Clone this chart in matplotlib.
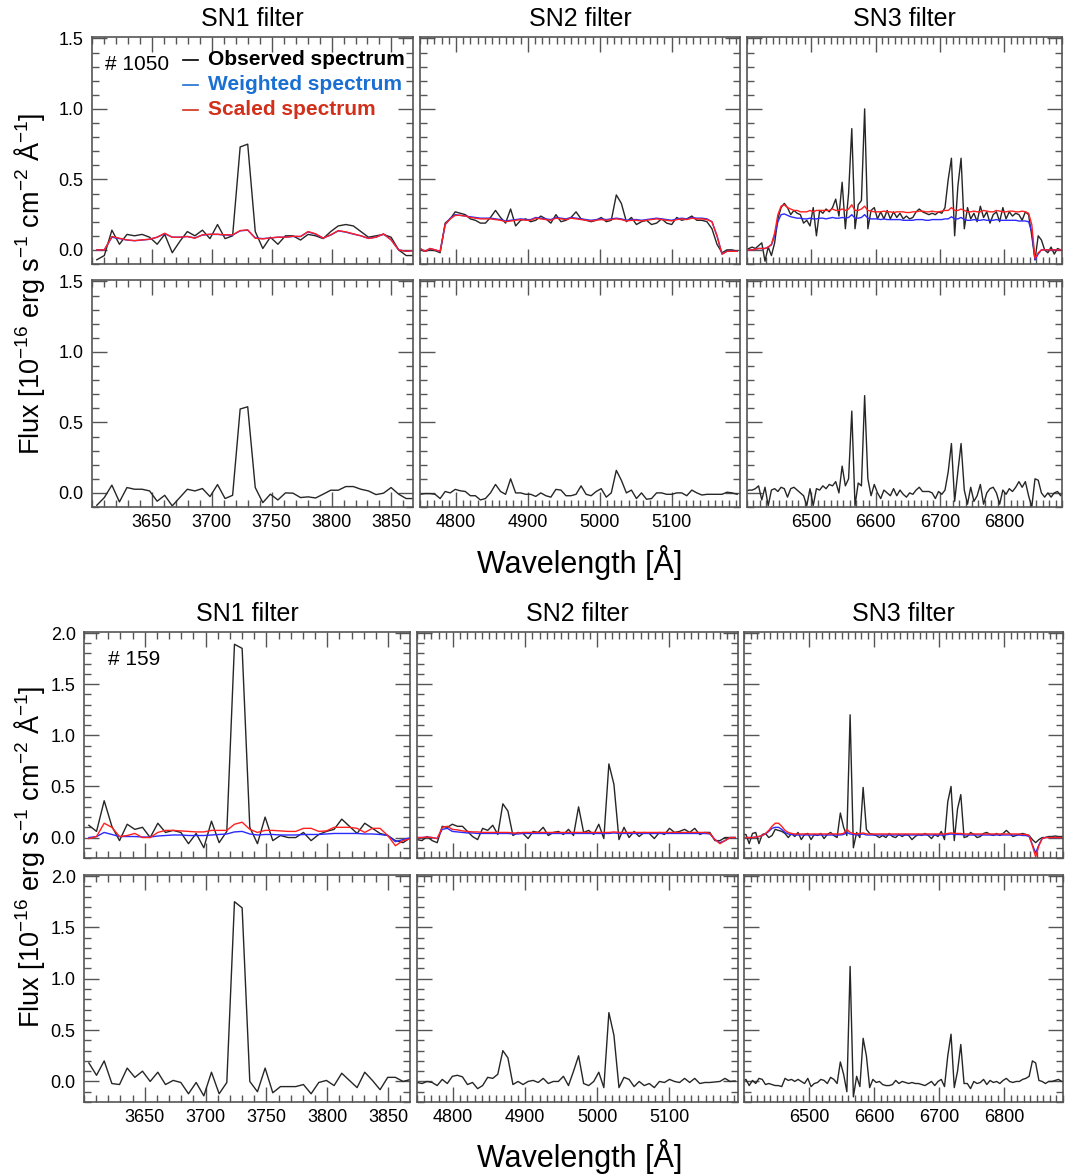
import numpy as np
import matplotlib
matplotlib.use("Agg")
import matplotlib.pyplot as plt
from matplotlib.ticker import MultipleLocator

plt.rcParams['font.family'] = ['Liberation Sans', 'DejaVu Sans']
plt.rcParams['mathtext.fontset'] = 'custom'
plt.rcParams['mathtext.rm'] = 'Liberation Sans'
plt.rcParams['mathtext.it'] = 'Liberation Sans:italic'
plt.rcParams['mathtext.bf'] = 'Liberation Sans:bold'

# wavelength sampling of each filter (start, step in Angstrom)
sn1_start, sn1_step = 3604.0, 6.3
sn2_start, sn2_step = 4750.0, 7.0
sn3_start, sn3_step = 6398.0, 5.0

# ---------------- region #1050 ----------------
obs1050_sn1 = [-0.07, -0.04, 0.14, 0.04, 0.11, 0.10, 0.11, 0.09, 0.04, 0.11,
               -0.02, 0.06, 0.13, 0.10, 0.14, 0.08, 0.18, 0.08, 0.10, 0.73,
               0.75, 0.13, 0.01, 0.09, 0.04, 0.10, 0.10, 0.07, 0.11, 0.10,
               0.08, 0.13, 0.17, 0.18, 0.17, 0.13, 0.09, 0.10, 0.11, 0.09,
               0.00, -0.04, -0.04]
wgt1050_sn1 = [0.00, 0.00, 0.09, 0.08, 0.07, 0.065, 0.07, 0.075, 0.09, 0.115,
               0.09, 0.09, 0.095, 0.085, 0.105, 0.11, 0.11, 0.105, 0.105, 0.135,
               0.14, 0.085, 0.08, 0.085, 0.09, 0.09, 0.095, 0.095, 0.128, 0.112,
               0.085, 0.105, 0.135, 0.126, 0.112, 0.10, 0.082, 0.09, 0.112, 0.072,
               0.00, -0.01, -0.005]
scl1050_sn1 = [0.00, 0.00, 0.095, 0.083, 0.071, 0.066, 0.071, 0.076, 0.090, 0.118,
               0.090, 0.090, 0.095, 0.083, 0.107, 0.111, 0.111, 0.107, 0.107, 0.137,
               0.142, 0.083, 0.078, 0.085, 0.090, 0.090, 0.097, 0.095, 0.130, 0.114,
               0.083, 0.107, 0.137, 0.128, 0.114, 0.100, 0.081, 0.090, 0.114, 0.071,
               0.00, -0.01, -0.005]
sub1050_sn1 = [-0.088, -0.033, 0.055, -0.064, 0.038, 0.026, 0.026, 0.014, -0.059, -0.017,
               -0.092, -0.033, 0.026, 0.014, 0.031, -0.026, 0.059, -0.040, -0.017, 0.595,
               0.611, 0.038, -0.069, -0.009, -0.050, 0.0, -0.002, -0.033, -0.028, -0.036,
               -0.009, 0.019, 0.019, 0.045, 0.045, 0.026, 0.014, -0.012, -0.002, 0.038,
               -0.009, -0.040, -0.040]

obs1050_sn2 = [0.0, -0.01, 0.0, -0.005, -0.02, 0.19, 0.22, 0.27, 0.26, 0.25,
               0.22, 0.21, 0.19, 0.19, 0.23, 0.28, 0.23, 0.19, 0.29, 0.17,
               0.21, 0.22, 0.20, 0.21, 0.24, 0.22, 0.19, 0.25, 0.20, 0.21,
               0.23, 0.27, 0.22, 0.21, 0.20, 0.21, 0.23, 0.20, 0.21, 0.39,
               0.33, 0.20, 0.23, 0.18, 0.20, 0.21, 0.18, 0.19, 0.22, 0.19,
               0.18, 0.23, 0.21, 0.22, 0.24, 0.21, 0.21, 0.20, 0.15, 0.04,
               -0.02, 0.0, 0.0, -0.01]
wgt1050_sn2 = [0.01, -0.01, 0.01, 0.0, -0.01, 0.18, 0.225, 0.25, 0.245, 0.24,
               0.235, 0.23, 0.225, 0.225, 0.225, 0.22, 0.215, 0.205, 0.21, 0.215,
               0.22, 0.215, 0.215, 0.23, 0.225, 0.22, 0.215, 0.23, 0.225, 0.22,
               0.23, 0.225, 0.22, 0.215, 0.21, 0.215, 0.22, 0.215, 0.22, 0.225,
               0.22, 0.21, 0.215, 0.215, 0.21, 0.215, 0.22, 0.225, 0.22, 0.215,
               0.21, 0.22, 0.225, 0.22, 0.23, 0.225, 0.225, 0.22, 0.20, 0.10,
               -0.03, -0.01, -0.01, -0.01]
scl1050_sn2 = [0.01, -0.01, 0.01, 0.0, -0.01, 0.18, 0.22, 0.245, 0.245, 0.24,
               0.23, 0.225, 0.22, 0.22, 0.22, 0.215, 0.21, 0.20, 0.205, 0.21,
               0.215, 0.21, 0.21, 0.225, 0.22, 0.215, 0.21, 0.225, 0.22, 0.215,
               0.225, 0.22, 0.215, 0.21, 0.205, 0.21, 0.215, 0.21, 0.215, 0.22,
               0.215, 0.205, 0.21, 0.21, 0.205, 0.21, 0.215, 0.22, 0.215, 0.21,
               0.205, 0.215, 0.22, 0.215, 0.225, 0.22, 0.22, 0.215, 0.20, 0.10,
               -0.03, -0.01, -0.01, -0.01]
sub1050_sn2 = [-0.01, -0.005, -0.005, -0.01, -0.04, 0.01, 0.0, 0.025, 0.015, 0.01,
               -0.02, -0.02, -0.05, -0.04, 0.0, 0.06, 0.01, -0.01, 0.10, 0.0,
               0.0, -0.01, -0.01, -0.025, 0.0, -0.02, -0.03, 0.025, 0.02, -0.02,
               -0.02, -0.01, 0.05, -0.01, -0.02, 0.01, 0.03, -0.03, 0.0, 0.16,
               0.09, 0.0, 0.02, -0.04, 0.0, -0.045, -0.04, 0.0, 0.0, -0.01,
               -0.01, 0.0, 0.0, -0.02, 0.02, 0.0, -0.015, -0.01, -0.01, -0.01,
               -0.01, 0.005, 0.0, -0.01]

obs1050_sn3 = [0.00, 0.01, 0.02, 0.01, 0.03, 0.05, -0.08, 0.02, -0.04, 0.05,
               0.22, 0.30, 0.33, 0.30, 0.25, 0.28, 0.26, 0.25, 0.19, 0.21,
               0.17, 0.30, 0.10, 0.28, 0.26, 0.29, 0.27, 0.30, 0.36, 0.24,
               0.48, 0.15, 0.40, 0.86, 0.15, 0.32, 0.35, 1.00, 0.15, 0.28,
               0.30, 0.22, 0.27, 0.22, 0.28, 0.22, 0.27, 0.23, 0.26, 0.22,
               0.24, 0.22, 0.23, 0.27, 0.29, 0.27, 0.26, 0.25, 0.26, 0.25,
               0.27, 0.26, 0.30, 0.50, 0.65, 0.10, 0.45, 0.65, 0.15, 0.30,
               0.22, 0.26, 0.20, 0.31, 0.23, 0.27, 0.19, 0.25, 0.27, 0.20,
               0.30, 0.22, 0.27, 0.24, 0.26, 0.25, 0.21, 0.27, 0.25, 0.10,
               -0.07, 0.10, 0.07, 0.00, -0.02, 0.02, -0.03, 0.01, 0.00, 0.01]
wgt1050_sn3 = [0.00, 0.00, 0.00, 0.005, 0.01, 0.01, 0.01, 0.02, 0.035, 0.10,
               0.20, 0.25, 0.255, 0.245, 0.235, 0.23, 0.225, 0.225, 0.22, 0.22,
               0.225, 0.22, 0.22, 0.225, 0.225, 0.22, 0.225, 0.23, 0.225, 0.225,
               0.23, 0.225, 0.23, 0.25, 0.225, 0.225, 0.23, 0.25, 0.225, 0.22,
               0.22, 0.22, 0.215, 0.22, 0.215, 0.215, 0.215, 0.215, 0.215, 0.21,
               0.21, 0.21, 0.21, 0.215, 0.215, 0.215, 0.21, 0.21, 0.215, 0.215,
               0.215, 0.215, 0.22, 0.22, 0.235, 0.22, 0.22, 0.23, 0.215, 0.21,
               0.21, 0.215, 0.21, 0.21, 0.215, 0.21, 0.21, 0.21, 0.215, 0.21,
               0.21, 0.21, 0.21, 0.21, 0.21, 0.205, 0.205, 0.205, 0.20, 0.13,
               -0.07, -0.03, 0.0, 0.0, 0.0, 0.0, 0.0, 0.0, 0.0, 0.0]
scl1050_sn3 = [0.00, 0.00, 0.00, 0.005, 0.01, 0.01, 0.01, 0.02, 0.04, 0.12,
               0.25, 0.31, 0.32, 0.30, 0.29, 0.28, 0.28, 0.27, 0.27, 0.27,
               0.28, 0.27, 0.28, 0.28, 0.28, 0.28, 0.28, 0.29, 0.28, 0.28,
               0.29, 0.28, 0.29, 0.32, 0.28, 0.28, 0.29, 0.31, 0.28, 0.275,
               0.27, 0.27, 0.27, 0.275, 0.27, 0.27, 0.265, 0.27, 0.27, 0.27,
               0.265, 0.265, 0.27, 0.27, 0.275, 0.275, 0.27, 0.27, 0.275, 0.27,
               0.27, 0.275, 0.28, 0.28, 0.30, 0.28, 0.28, 0.29, 0.28, 0.27,
               0.27, 0.275, 0.27, 0.27, 0.28, 0.275, 0.27, 0.27, 0.28, 0.275,
               0.27, 0.27, 0.275, 0.275, 0.27, 0.27, 0.275, 0.27, 0.26, 0.18,
               -0.06, -0.02, 0.0, 0.0, 0.0, 0.0, 0.0, 0.0, 0.0, 0.0]
sub1050_sn3 = [0.01, 0.02, 0.02, 0.03, 0.05, -0.05, 0.04, -0.09, 0.02, 0.03,
               0.01, 0.04, 0.03, -0.03, 0.03, 0.04, 0.02, 0.0, -0.02, -0.09,
               0.03, -0.09, 0.03, 0.02, 0.05, 0.03, 0.06, 0.05, 0.08, 0.0,
               0.19, 0.05, 0.10, 0.58, -0.09, 0.07, 0.05, 0.69, 0.10, -0.02,
               0.06, 0.0, -0.04, 0.02, 0.0, -0.02, 0.03, -0.02, 0.02, -0.01,
               -0.03, 0.0, -0.01, 0.02, 0.04, 0.01, 0.01, 0.01, 0.0, -0.04,
               0.01, -0.01, 0.02, 0.15, 0.35, -0.06, 0.15, 0.35, 0.02, -0.08,
               0.04, -0.06, -0.02, 0.06, -0.08, 0.0, 0.03, 0.04, 0.0, -0.08,
               0.02, -0.01, 0.03, 0.01, 0.04, 0.08, 0.04, 0.08, -0.02, -0.10,
               0.10, 0.09, 0.0, -0.03, 0.0, -0.03, 0.0, 0.01, -0.02, 0.01]

# ---------------- region #159 ----------------
obs159_sn1 = [0.12, 0.06, 0.36, 0.11, -0.03, 0.13, 0.08, 0.10, 0.0, 0.14,
              0.05, 0.07, 0.05, -0.06, 0.04, -0.10, 0.16, -0.05, 0.06, 1.89,
              1.85, 0.10, -0.06, 0.20, -0.03, 0.02, 0.0, 0.0, 0.05, -0.03,
              0.03, 0.06, 0.08, 0.18, 0.11, 0.04, 0.14, 0.09, 0.04, 0.02,
              -0.03, -0.05, 0.0]
wgt159_sn1 = [0.0, 0.01, 0.05, 0.03, 0.01, 0.01, 0.01, 0.005, 0.005, 0.015,
              0.02, 0.025, 0.025, 0.02, 0.02, 0.02, 0.025, 0.03, 0.035, 0.055,
              0.06, 0.035, 0.025, 0.03, 0.03, 0.025, 0.025, 0.025, 0.03, 0.03,
              0.03, 0.035, 0.04, 0.04, 0.04, 0.04, 0.035, 0.035, 0.03, 0.02,
              -0.04, -0.02, 0.0]
scl159_sn1 = [-0.01, 0.01, 0.14, 0.10, 0.01, 0.02, 0.04, 0.0, 0.0, 0.05,
              0.07, 0.07, 0.065, 0.06, 0.055, 0.055, 0.07, 0.07, 0.07, 0.13,
              0.15, 0.08, 0.05, 0.07, 0.07, 0.065, 0.06, 0.06, 0.09, 0.09,
              0.06, 0.065, 0.10, 0.10, 0.10, 0.09, 0.05, 0.09, 0.09, 0.02,
              -0.08, -0.03, -0.01]
sub159_sn1 = [0.18, 0.06, 0.20, -0.02, -0.03, 0.13, 0.04, 0.10, 0.0, 0.09,
              -0.03, 0.01, -0.01, -0.12, -0.01, -0.14, 0.09, -0.12, -0.01, 1.75,
              1.69, 0.0, -0.10, 0.13, -0.11, -0.05, -0.05, -0.05, -0.03, -0.12,
              -0.01, 0.01, -0.04, 0.08, 0.01, -0.06, 0.09, 0.01, -0.08, 0.04,
              0.04, 0.0, 0.02]

obs159_sn2 = [-0.02, -0.03, 0.01, -0.03, -0.05, 0.11, 0.10, 0.13, 0.11, 0.11,
              0.06, 0.01, -0.02, 0.09, 0.07, 0.12, 0.03, 0.33, 0.26, 0.02,
              0.05, 0.04, -0.01, 0.06, 0.05, 0.10, 0.02, 0.05, 0.06, 0.03,
              0.08, 0.02, 0.30, 0.05, 0.07, 0.03, 0.13, -0.01, 0.72, 0.52,
              -0.02, 0.10, 0.0, 0.06, 0.01, 0.05, 0.04, -0.01, 0.05, 0.03,
              0.09, 0.05, 0.06, 0.08, 0.05, 0.09, 0.03, 0.05, 0.05, -0.03,
              -0.03, 0.0, 0.0, 0.0]
wgt159_sn2 = [0.0, 0.0, 0.005, 0.0, -0.01, 0.08, 0.09, 0.06, 0.055, 0.05,
              0.045, 0.045, 0.04, 0.04, 0.04, 0.04, 0.04, 0.04, 0.04, 0.035,
              0.035, 0.04, 0.04, 0.04, 0.04, 0.04, 0.04, 0.04, 0.04, 0.04,
              0.04, 0.04, 0.04, 0.04, 0.04, 0.04, 0.04, 0.04, 0.04, 0.045,
              0.04, 0.04, 0.04, 0.04, 0.04, 0.04, 0.04, 0.04, 0.04, 0.04,
              0.04, 0.04, 0.04, 0.04, 0.04, 0.04, 0.04, 0.04, 0.035, -0.02,
              -0.05, -0.03, 0.0, 0.0]
scl159_sn2 = [0.0, 0.0, 0.005, 0.0, -0.01, 0.10, 0.11, 0.08, 0.075, 0.065,
              0.06, 0.055, 0.055, 0.05, 0.05, 0.05, 0.05, 0.05, 0.05, 0.045,
              0.045, 0.05, 0.05, 0.05, 0.05, 0.05, 0.05, 0.05, 0.05, 0.05,
              0.05, 0.05, 0.05, 0.05, 0.05, 0.05, 0.05, 0.05, 0.05, 0.055,
              0.05, 0.05, 0.05, 0.05, 0.05, 0.05, 0.05, 0.05, 0.05, 0.05,
              0.05, 0.05, 0.05, 0.05, 0.05, 0.05, 0.05, 0.05, 0.04, -0.02,
              -0.06, -0.03, 0.0, 0.0]
sub159_sn2 = [-0.01, -0.02, 0.0, -0.01, -0.04, 0.02, -0.02, 0.05, 0.06, 0.045,
              -0.03, -0.01, -0.07, -0.04, 0.04, 0.03, 0.07, 0.30, 0.23, -0.03,
              0.0, -0.03, 0.0, 0.01, -0.01, 0.03, -0.02, 0.0, 0.0, 0.05,
              -0.04, 0.10, 0.25, -0.02, -0.04, 0.0, 0.09, -0.06, 0.67, 0.45,
              -0.06, 0.04, 0.02, -0.05, 0.0, -0.04, -0.02, -0.06, 0.0, -0.01,
              0.02, 0.0, -0.01, 0.03, -0.01, 0.03, -0.02, -0.01, -0.01, -0.005,
              0.0, 0.03, 0.0, 0.005]

obs159_sn3 = [0.03, 0.03, -0.06, 0.04, 0.05, -0.06, 0.03, 0.04, 0.0, 0.02,
              0.08, 0.07, 0.06, 0.04, 0.0, 0.04, 0.01, 0.05, -0.02, 0.03,
              0.04, -0.02, 0.03, 0.02, 0.04, -0.01, 0.03, 0.05, 0.02, 0.0,
              0.24, 0.10, 0.02, 1.20, -0.10, 0.05, 0.0, 0.49, 0.08, 0.04,
              0.03, 0.02, 0.0, 0.02, 0.0, 0.04, 0.01, 0.0, 0.03, 0.01,
              0.03, 0.02, -0.02, 0.01, 0.03, 0.02, 0.04, 0.02, -0.01, 0.03,
              0.01, 0.06, -0.02, 0.35, 0.50, -0.03, 0.28, 0.42, 0.0, 0.01,
              0.05, 0.03, 0.0, 0.01, 0.04, 0.05, 0.03, 0.02, 0.04, 0.02,
              0.04, 0.07, 0.04, 0.01, 0.02, 0.03, 0.04, 0.03, 0.02, -0.02,
              -0.05, -0.02, 0.0, 0.0, 0.01, 0.01, 0.015, 0.01, 0.01, 0.01]
wgt159_sn3 = [0.0, 0.0, 0.0, 0.0, 0.005, 0.01, 0.02, 0.035, 0.06, 0.09,
              0.10, 0.10, 0.08, 0.05, 0.035, 0.03, 0.025, 0.025, 0.025, 0.025,
              0.025, 0.025, 0.025, 0.025, 0.025, 0.025, 0.025, 0.025, 0.025, 0.025,
              0.025, 0.03, 0.05, 0.035, 0.03, 0.025, 0.03, 0.035, 0.025, 0.025,
              0.025, 0.025, 0.025, 0.025, 0.025, 0.025, 0.025, 0.025, 0.025, 0.025,
              0.025, 0.025, 0.025, 0.025, 0.025, 0.025, 0.025, 0.025, 0.025, 0.025,
              0.025, 0.025, 0.025, 0.03, 0.035, 0.03, 0.03, 0.03, 0.025, 0.025,
              0.025, 0.025, 0.025, 0.025, 0.025, 0.025, 0.025, 0.025, 0.025, 0.025,
              0.025, 0.025, 0.025, 0.025, 0.025, 0.025, 0.02, 0.02, 0.01, -0.07,
              -0.15, -0.07, -0.01, 0.0, 0.0, 0.0, 0.0, 0.0, 0.0, 0.0]
scl159_sn3 = [0.0, 0.0, 0.0, 0.0, 0.005, 0.01, 0.02, 0.04, 0.07, 0.11,
              0.14, 0.14, 0.11, 0.07, 0.05, 0.04, 0.035, 0.035, 0.035, 0.035,
              0.035, 0.035, 0.035, 0.035, 0.035, 0.035, 0.035, 0.035, 0.035, 0.035,
              0.035, 0.04, 0.08, 0.05, 0.04, 0.035, 0.04, 0.045, 0.035, 0.035,
              0.035, 0.035, 0.035, 0.035, 0.035, 0.035, 0.035, 0.035, 0.035, 0.035,
              0.035, 0.035, 0.035, 0.035, 0.035, 0.035, 0.035, 0.035, 0.035, 0.035,
              0.035, 0.035, 0.035, 0.04, 0.045, 0.04, 0.04, 0.04, 0.035, 0.035,
              0.035, 0.035, 0.035, 0.035, 0.035, 0.035, 0.035, 0.035, 0.035, 0.035,
              0.035, 0.035, 0.035, 0.035, 0.035, 0.035, 0.03, 0.03, 0.02, -0.08,
              -0.19, -0.08, -0.01, 0.0, 0.0, 0.0, 0.0, 0.0, 0.0, 0.0]
sub159_sn3 = [0.0, 0.02, -0.04, 0.01, -0.02, 0.03, 0.02, -0.03, -0.02, -0.03,
              -0.04, -0.04, -0.05, 0.03, 0.01, 0.02, 0.0, 0.02, 0.0, -0.02,
              0.03, -0.05, -0.02, -0.01, 0.02, 0.01, -0.02, 0.04, 0.02, -0.02,
              0.19, 0.07, -0.10, 1.12, -0.15, 0.05, -0.05, 0.42, 0.25, -0.06,
              0.02, -0.01, 0.0, -0.03, -0.04, -0.04, -0.03, 0.01, -0.02, 0.0,
              -0.01, -0.02, -0.01, -0.02, -0.02, -0.03, -0.04, -0.02, 0.0, -0.04,
              0.0, 0.02, -0.05, 0.25, 0.46, -0.06, 0.10, 0.36, -0.02, -0.02,
              -0.07, 0.0, -0.02, -0.01, 0.02, -0.03, 0.01, -0.01, 0.0, -0.02,
              0.01, 0.03, 0.0, -0.01, 0.0, 0.0, 0.02, 0.03, 0.05, 0.20,
              0.18, 0.01, 0.0, -0.02, 0.0, 0.0, 0.01, 0.02, 0.0, 0.0]

filters = ['SN1 filter', 'SN2 filter', 'SN3 filter']
xlims = [(3600, 3868), (4750, 5195), (6400, 6890)]
xticks = [[3650, 3700, 3750, 3800, 3850], [4800, 4900, 5000, 5100],
          [6500, 6600, 6700, 6800]]
legend_labels = ['Observed spectrum', 'Weighted spectrum', 'Scaled spectrum']
legend_colors = ['black', '#1a6fd2', '#d2301a']

c_obs, c_wgt, c_scl = '#262626', '#2a2aff', '#ff2020'
spine_c = '#555555'

W, H = 1065, 1174
fig = plt.figure(figsize=(W / 100, H / 100), dpi=100)


def add_ax(x0, y0, x1, y1):
    # box given in pixels, y measured from the top
    return fig.add_axes([x0 / W, 1 - y1 / H, (x1 - x0) / W, (y1 - y0) / H])


def waves(start, step, n):
    return start + step * np.arange(n)


blocks = [
    dict(tag='# 1050', tag_x=0.04, cols=[(92, 413), (420, 740), (747, 1062)],
         rows=[(37, 264), (280, 507)], ylim=(-0.1, 1.51),
         yticks=[0.0, 0.5, 1.0, 1.5],
         obs=[obs1050_sn1, obs1050_sn2, obs1050_sn3],
         wgt=[wgt1050_sn1, wgt1050_sn2, wgt1050_sn3],
         scl=[scl1050_sn1, scl1050_sn2, scl1050_sn3],
         sub=[sub1050_sn1, sub1050_sn2, sub1050_sn3],
         xlab_y=563, ylab_y=284, legend=True),
    dict(tag='# 159', tag_x=0.074, cols=[(84, 410), (417, 738), (744, 1063)],
         rows=[(632, 858), (875, 1102)], ylim=(-0.2, 2.01),
         yticks=[0.0, 0.5, 1.0, 1.5, 2.0],
         obs=[obs159_sn1, obs159_sn2, obs159_sn3],
         wgt=[wgt159_sn1, wgt159_sn2, wgt159_sn3],
         scl=[scl159_sn1, scl159_sn2, scl159_sn3],
         sub=[sub159_sn1, sub159_sn2, sub159_sn3],
         xlab_y=1157, ylab_y=857, legend=False),
]

grids = [(sn1_start, sn1_step), (sn2_start, sn2_step), (sn3_start, sn3_step)]

for blk in blocks:
    for r, (y0, y1) in enumerate(blk['rows']):
        for c, (x0, x1) in enumerate(blk['cols']):
            ax = add_ax(x0, y0, x1, y1)
            start, step = grids[c]
            if r == 0:
                wl = waves(start, step, len(blk['obs'][c]))
                ax.plot(wl, blk['obs'][c], color=c_obs, lw=1.0)
                ax.plot(wl, blk['wgt'][c], color=c_wgt, lw=1.0)
                ax.plot(wl, blk['scl'][c], color=c_scl, lw=1.0)
                ax.set_title(filters[c], fontsize=18, pad=8)
            else:
                wl = waves(start, step, len(blk['sub'][c]))
                ax.plot(wl, blk['sub'][c], color=c_obs, lw=1.0)
            ax.set_xlim(*xlims[c])
            ax.set_ylim(*blk['ylim'])
            ax.set_xticks(xticks[c])
            ax.xaxis.set_minor_locator(MultipleLocator(10))
            ax.set_yticks(blk['yticks'])
            ax.yaxis.set_minor_locator(MultipleLocator(0.1))
            ax.tick_params(which='both', direction='in', top=True, right=True,
                           color=spine_c, width=1.0, labelsize=13)
            ax.tick_params(which='major', length=11)
            ax.tick_params(which='minor', length=5)
            ax.tick_params(axis='x', pad=5)
            ax.tick_params(axis='y', pad=6)
            for s in ax.spines.values():
                s.set_color(spine_c)
                s.set_linewidth(1.2)
            if c == 0:
                ax.set_yticklabels(['%.1f' % v for v in blk['yticks']])
            else:
                ax.set_yticklabels([])
            if r == 0:
                ax.set_xticklabels([])
            if r == 0 and c == 0:
                ax.text(blk['tag_x'], 0.877, blk['tag'], transform=ax.transAxes,
                        fontsize=15, va='center')
                if blk['legend']:
                    for i, (lab, col) in enumerate(zip(legend_labels, legend_colors)):
                        yy = 0.90 - 0.11 * i
                        ax.plot([0.283, 0.33], [yy, yy], transform=ax.transAxes,
                                color=col, lw=1.2)
                        ax.text(0.361, yy, lab, transform=ax.transAxes,
                                fontsize=15, fontweight='bold', color=col,
                                va='center')
    fig.text(580 / W, 1 - blk['xlab_y'] / H, 'Wavelength [Å]', fontsize=22,
             ha='center', va='center')
    fig.text(30 / W, 1 - blk['ylab_y'] / H,
             r'Flux [10$^{-16}$ erg s$^{-1}$ cm$^{-2}$ Å$^{-1}$]',
             fontsize=19.5, rotation=90, ha='center', va='center')

fig.savefig('out.png', dpi=100)
